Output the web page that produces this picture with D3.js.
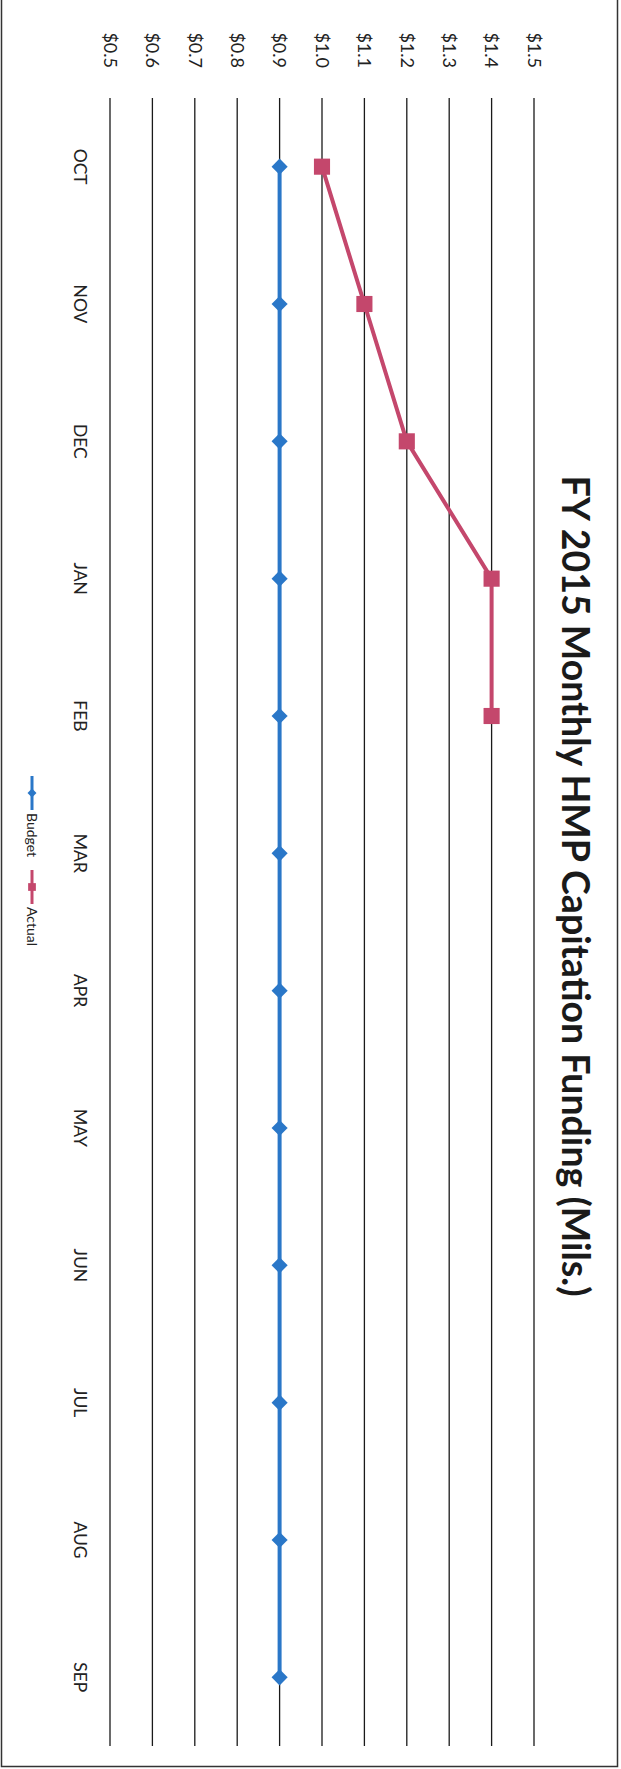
<!DOCTYPE html>
<html>
<head>
<meta charset="utf-8">
<script src="https://cdnjs.cloudflare.com/ajax/libs/d3/7.8.5/d3.min.js"></script>
<style>
  body { margin: 0; background: #fff; }
  svg { display: block; }
  .tick-label, .month-label, .legend { font-family: Lato, "Open Sans", sans-serif; fill: #222; }
  .title { font-family: Lato, "Open Sans", sans-serif; fill: #1a1a1a; font-weight: bold; }
</style>
</head>
<body>
<svg id="chart"></svg>
<script>
// chart data
const months = ["OCT", "NOV", "DEC", "JAN", "FEB", "MAR", "APR", "MAY", "JUN", "JUL", "AUG", "SEP"];
const budget = [0.9, 0.9, 0.9, 0.9, 0.9, 0.9, 0.9, 0.9, 0.9, 0.9, 0.9, 0.9];
const actual = [1.0, 1.1, 1.2, 1.4, 1.4];
const yTicks = [0.5, 0.6, 0.7, 0.8, 0.9, 1.0, 1.1, 1.2, 1.3, 1.4, 1.5];
const title = "FY 2015 Monthly HMP Capitation Funding (Mils.)";

const pageW = 621, pageH = 1769;
const blue = "#2a77c8", red = "#c4476c";

const svg = d3.select("#chart")
.attr("width", pageW)
.attr("height", pageH);

// page frame
svg.append("rect")
.attr("x", 1.5).attr("y", -2)
.attr("width", 616).attr("height", 1768.5)
.attr("fill", "none")
.attr("stroke", "#333")
.attr("stroke-width", 1.5);

// the whole chart is drawn sideways (rotated clockwise)
const Fig = svg.append("g")
.attr("transform", `translate(${pageW},0) rotate(90)`);

const xScale = d3.scalePoint()
.domain(months)
.range([98, 1746])
.padding(0.5);

const yScale = d3.scaleLinear()
.domain([0.5, 1.5])
.range([511, 87]);

// gridlines
Fig.append("g").selectAll("line")
.data(yTicks)
.join("line")
.attr("x1", 98).attr("x2", 1746)
.attr("y1", d => yScale(d)).attr("y2", d => yScale(d))
.attr("stroke", "#1a1a1a")
.attr("stroke-width", 1.3);

// value labels
Fig.append("g").selectAll("text")
.data(yTicks)
.join("text")
.attr("class", "tick-label")
.attr("x", 68)
.attr("y", d => yScale(d))
.attr("dy", "0.35em")
.attr("text-anchor", "end")
.style("font-size", "18px")
.text(d => "$" + d.toFixed(1));

// month labels
Fig.append("g").selectAll("text")
.data(months)
.join("text")
.attr("class", "month-label")
.attr("x", d => xScale(d))
.attr("y", 541)
.attr("dy", "0.35em")
.attr("text-anchor", "middle")
.style("font-size", "17.5px")
.text(d => d);

// title
Fig.append("text")
.attr("class", "title")
.attr("x", 886)
.attr("y", 46)
.attr("dy", "0.35em")
.attr("text-anchor", "middle")
.style("font-size", "37.5px")
.text(title);

const line = d3.line()
.x((d, i) => xScale(months[i]))
.y(d => yScale(d));

const square = d3.symbol().type(d3.symbolSquare).size(260);

// Budget series
Fig.append("path")
.attr("d", line(budget))
.attr("fill", "none")
.attr("stroke", blue)
.attr("stroke-width", 4);

Fig.append("g").selectAll("path")
.data(budget)
.join("path")
.attr("transform", (d, i) => `translate(${xScale(months[i])},${yScale(d)}) rotate(45)`)
.attr("d", d3.symbol().type(d3.symbolSquare).size(130))
.attr("fill", blue);

// Actual series
Fig.append("path")
.attr("d", line(actual))
.attr("fill", "none")
.attr("stroke", red)
.attr("stroke-width", 4);

Fig.append("g").selectAll("path")
.data(actual)
.join("path")
.attr("transform", (d, i) => `translate(${xScale(months[i])},${yScale(d)})`)
.attr("d", square)
.attr("fill", red);

// legend
const legendItems = [
  {name: "Budget", color: blue, shape: "diamond"},
  {name: "Actual", color: red, shape: "square"}
];

const legend = Fig.append("g")
.attr("transform", `translate(${776},${589})`);

const items = legend.selectAll("g")
.data(legendItems)
.join("g")
.attr("transform", (d, i) => `translate(${i * 94},0)`);

items.append("line")
.attr("x1", 0).attr("x2", 34)
.attr("stroke", d => d.color)
.attr("stroke-width", 3);

items.append("path")
.attr("transform", d => `translate(17,0) rotate(${d.shape === "diamond" ? 45 : 0})`)
.attr("d", d => d3.symbol().type(d3.symbolSquare).size(d.shape === "diamond" ? 40 : 60)())
.attr("fill", d => d.color);

items.append("text")
.attr("class", "legend")
.attr("x", 37)
.attr("dy", "0.35em")
.style("font-size", "14px")
.text(d => d.name);
</script>
</body>
</html>
